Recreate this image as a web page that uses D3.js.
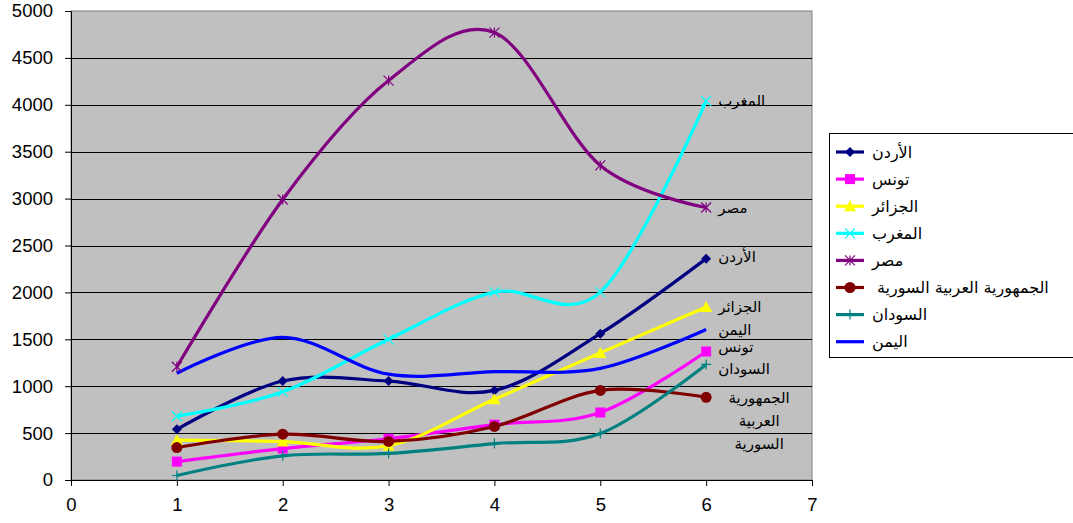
<!DOCTYPE html>
<html>
<head>
<meta charset="utf-8">
<script src="https://cdn.jsdelivr.net/npm/d3@7"></script>
<style>
  body { margin: 0; background: #fff; }
  svg { display: block; font-family: "Liberation Sans", "DejaVu Sans", sans-serif; }
</style>
</head>
<body>
<svg id="chart" width="1073" height="523"></svg>
<script>
// data
const xs = [1, 2, 3, 4, 5, 6];
const jordan  = [540, 1055, 1055, 955, 1560, 2360];
const tunisia = [196, 335, 440, 590, 720, 1370];
const algeria = [425, 410, 365, 860, 1355, 1845];
const morocco = [680, 940, 1500, 2003, 2003, 4040];
const egypt   = [1207, 2990, 4258, 4770, 3354, 2905];
const syria   = [346, 489, 411, 571, 955, 882];
const sudan   = [48, 258, 283, 388, 495, 1232];
const yemen   = [1138, 1520, 1128, 1155, 1190, 1605];

const names = ['الأردن', 'تونس', 'الجزائر', 'المغرب', 'مصر', 'الجمهورية العربية السورية', 'السودان', 'اليمن'];
const values = [jordan, tunisia, algeria, morocco, egypt, syria, sudan, yemen];
const colors = ['#000080', '#ff00ff', '#ffff00', '#00ffff', '#800080', '#800000', '#008080', '#0000ff'];
const markers = ['diamond', 'square', 'triangle', 'times', 'star', 'circle', 'plus', 'none'];
const yTicks = [0, 500, 1000, 1500, 2000, 2500, 3000, 3500, 4000, 4500, 5000];
const xTicks = [0, 1, 2, 3, 4, 5, 6, 7];

const series = names.map((n, i) => ({
  name: n, color: colors[i], marker: markers[i],
  points: xs.map((x, j) => ({ x, y: values[i][j] }))
}));

const svg = d3.select('#chart');
const plotL = 71, plotR = 812, plotT = 11, plotB = 480;

const x = d3.scaleLinear().domain([0, 7]).range([plotL, plotR]);
const y = d3.scaleLinear().domain([0, 5000]).range([plotB, plotT]);

// plot area
svg.append('rect')
  .attr('x', plotL).attr('y', plotT)
  .attr('width', plotR - plotL).attr('height', plotB - plotT)
  .attr('fill', '#c0c0c0')
  .attr('stroke', '#808080');

// gridlines
svg.append('g')
  .selectAll('line')
  .data(yTicks.filter(d => d > 0 && d < 5000))
  .join('line')
  .attr('x1', plotL).attr('x2', plotR)
  .attr('y1', d => Math.round(y(d)) + 0.5).attr('y2', d => Math.round(y(d)) + 0.5)
  .attr('stroke', '#000');

// axes
const yAxis = svg.append('g')
  .attr('transform', `translate(${plotL},0)`)
  .call(d3.axisLeft(y).tickValues(yTicks).tickSize(6).tickPadding(12).tickFormat(d3.format('d')));
const xAxis = svg.append('g')
  .attr('transform', `translate(0,${plotB})`)
  .call(d3.axisBottom(x).tickValues(xTicks).tickSize(6).tickPadding(12).tickFormat(d3.format('d')));
[yAxis, xAxis].forEach(a => {
  a.select('.domain').attr('stroke', '#000');
  a.selectAll('.tick line').attr('stroke', '#000');
  a.selectAll('text').attr('font-size', 18.5).attr('fill', '#000')
    .attr('font-family', '"Liberation Sans", sans-serif');
});

// lines
const line = d3.line()
  .x(d => x(d.x)).y(d => y(d.y))
  .curve(d3.curveCardinal.tension(0));

svg.append('g')
  .selectAll('path')
  .data(series)
  .join('path')
  .attr('d', d => line(d.points))
  .attr('fill', 'none')
  .attr('stroke', d => d.color)
  .attr('stroke-width', 3.2);

function drawMarker(g, type, color, cx, cy) {
  const s = 5;
  if (type === 'diamond') {
    g.append('path').attr('d', `M${cx},${cy - s}L${cx + s},${cy}L${cx},${cy + s}L${cx - s},${cy}Z`).attr('fill', color);
  } else if (type === 'square') {
    g.append('rect').attr('x', cx - s).attr('y', cy - s).attr('width', 2 * s).attr('height', 2 * s).attr('fill', color);
  } else if (type === 'triangle') {
    g.append('path').attr('d', `M${cx},${cy - s - 1}L${cx + s + 1},${cy + s}L${cx - s - 1},${cy + s}Z`).attr('fill', color);
  } else if (type === 'circle') {
    g.append('circle').attr('cx', cx).attr('cy', cy).attr('r', s + 0.5).attr('fill', color);
  } else if (type === 'times' || type === 'star') {
    let d = `M${cx - s},${cy - s}L${cx + s},${cy + s}M${cx + s},${cy - s}L${cx - s},${cy + s}`;
    if (type === 'star') d += `M${cx},${cy - s}L${cx},${cy + s}`;
    g.append('path').attr('d', d).attr('stroke', color).attr('stroke-width', 1.2).attr('fill', 'none');
  } else if (type === 'plus') {
    g.append('path').attr('d', `M${cx - s},${cy}L${cx + s},${cy}M${cx},${cy - s}L${cx},${cy + s}`)
      .attr('stroke', color).attr('stroke-width', 1.2).attr('fill', 'none');
  }
}

const mg = svg.append('g');
series.forEach(s => {
  s.points.forEach(p => drawMarker(mg, s.marker, s.color, x(p.x), y(p.y)));
});

// end-of-line labels
const labelNudge = { 'تونس': -5, 'السودان': 4, 'الأردن': -2 };
const lg = svg.append('g').attr('font-size', 15).attr('fill', '#000')
  .attr('font-family', '"DejaVu Sans", sans-serif');
series.forEach(s => {
  const last = s.points[s.points.length - 1];
  const lx = x(last.x) + 12;
  const ly = y(last.y) + (labelNudge[s.name] || 0);
  if (s.name.split(' ').length > 1) {
    const t = lg.append('text').attr('text-anchor', 'middle');
    s.name.split(' ').forEach((w, i) => {
      t.append('tspan').attr('x', lx + 41).attr('y', ly + i * 23).attr('dy', '0.35em').text(w);
    });
  } else {
    lg.append('text').attr('x', lx).attr('y', ly).attr('dy', '0.35em').text(s.name);
  }
});

// legend
const legX = 829, legY = 133, rowH = 27.1;
const leg = svg.append('g');
leg.append('rect')
  .attr('x', legX + 0.5).attr('y', legY + 0.5)
  .attr('width', 260).attr('height', 224)
  .attr('fill', '#fff').attr('stroke', '#000');

series.forEach((s, i) => {
  const cy = legY + 19 + i * rowH;
  const row = leg.append('g');
  row.append('line')
    .attr('x1', 836).attr('x2', 864)
    .attr('y1', cy).attr('y2', cy)
    .attr('stroke', s.color).attr('stroke-width', 3.2);
  drawMarker(row, s.marker, s.color, 850, cy);
  row.append('text')
    .attr('x', s.name.includes(' ') ? 877 : 872).attr('y', cy).attr('dy', '0.35em')
    .attr('font-size', 16)
    .attr('font-family', '"DejaVu Sans", sans-serif')
    .text(s.name);
});
</script>
</body>
</html>
